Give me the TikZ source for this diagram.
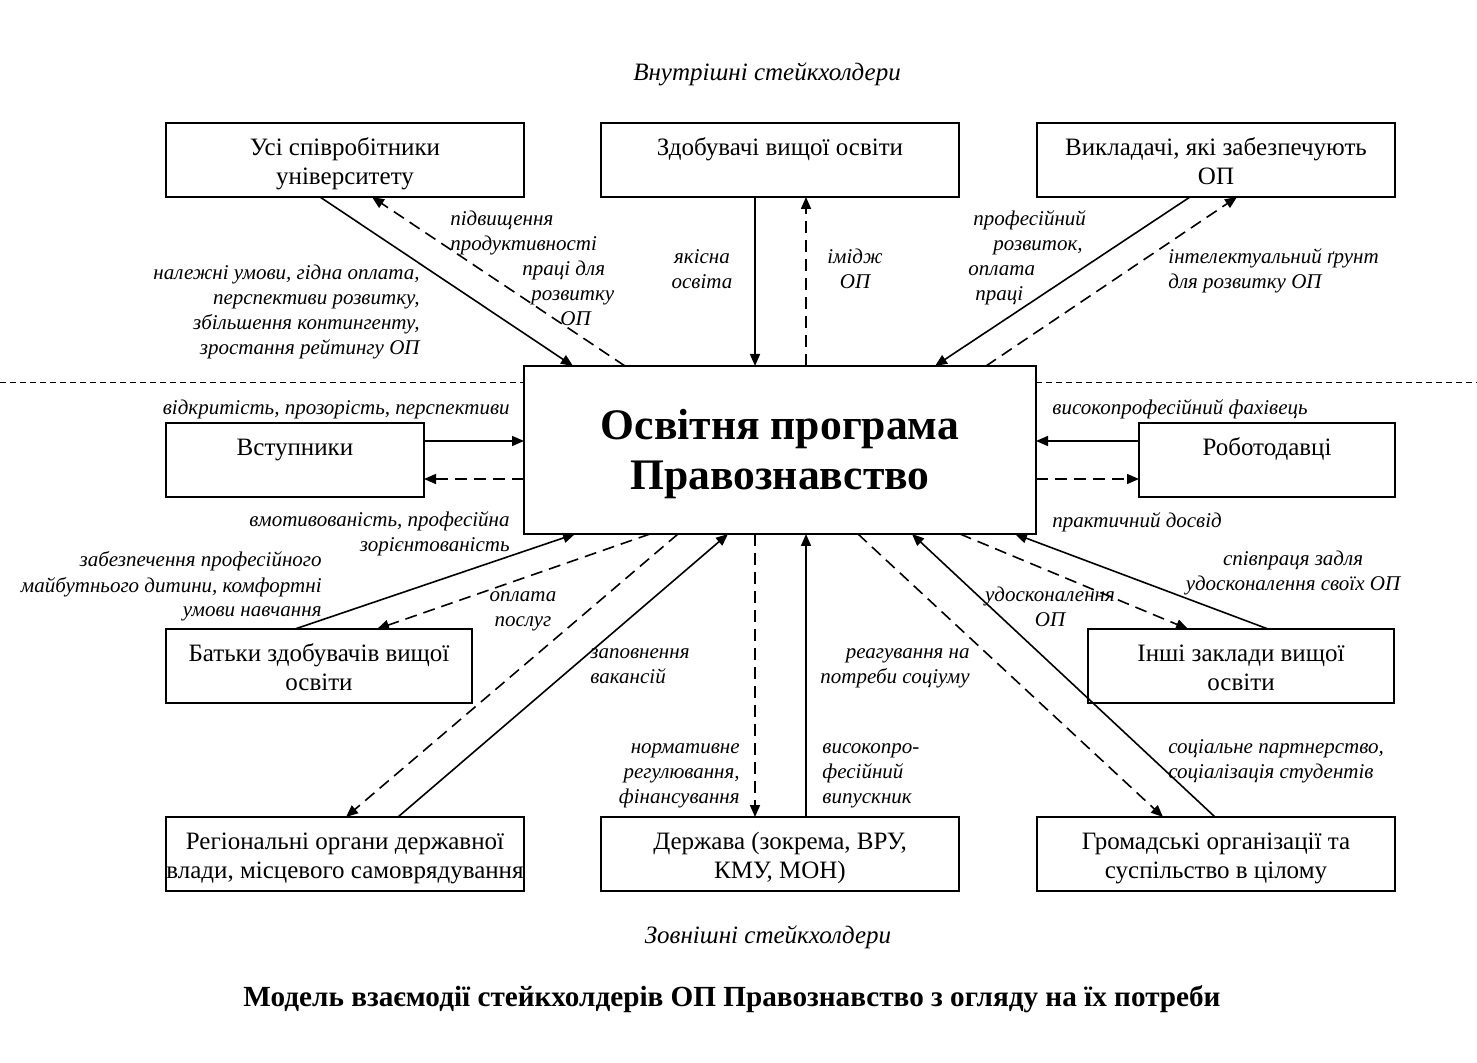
\documentclass[tikz,border=0pt]{standalone}
\usepackage{fontspec}
\setmainfont{Liberation Serif}
\usetikzlibrary{arrows.meta,calc}
\newcommand\boxlines[2]{\begin{tabular}{@{}c@{}}#1\\\mbox{}#2\end{tabular}}
\begin{document}
\begin{tikzpicture}[x=0.5pt,y=-0.5pt,
  box/.style={draw, line width=0.7pt, minimum width=179pt, minimum height=37pt,
    inner sep=0pt, outer sep=0pt, text height=19.6pt, text depth=9.4pt,
    font=\fontsize{12.5}{14.5}\selectfont},
  hub/.style={draw, line width=0.7pt, minimum width=256pt, minimum height=84pt,
    inner sep=0pt, outer sep=0pt, text height=32.2pt, text depth=17.8pt,
    font=\fontsize{21.8}{25}\selectfont\bfseries},
  lbl/.style={inner sep=0pt, font=\fontsize{10.5}{12.5}\selectfont\itshape},
  head/.style={inner sep=0pt, font=\fontsize{12.5}{15}\selectfont\itshape},
  flow/.style={line width=0.8pt, -{Triangle[length=6pt,width=5pt]}},
  back/.style={flow, dash pattern=on 6pt off 3.5pt},
  sep/.style={line width=0.5pt, dash pattern=on 3pt off 2pt},
]
\useasboundingbox (0,0) rectangle (1477,1063);

% separator line
\coordinate (SL) at (0,383);
\coordinate (SR) at (1477,383);

% boxes
\node[hub] (O) at (780,450) {\boxlines{Освітня програма}{Правознавство}};
\node[box] (A) at (345,160) {\boxlines{Усі співробітники}{університету}};
\node[box] (B) at (780,160) {\boxlines{Здобувачі вищої освіти}{}};
\node[box] (C) at (1216,160) {\boxlines{Викладачі, які забезпечують}{ОП}};
\node[box, minimum width=129pt] (V) at (295,460) {\boxlines{Вступники}{}};
\node[box, minimum width=128pt] (R) at (1267,460) {\boxlines{Роботодавці}{}};
\node[box, minimum width=153pt] (P) at (319,666) {\boxlines{Батьки здобувачів вищої}{освіти}};
\node[box, minimum width=153pt] (I) at (1241,666) {\boxlines{Інші заклади вищої}{освіти}};
\node[box] (G) at (345,854) {\boxlines{Регіональні органи державної}{влади, місцевого самоврядування}};
\node[box] (D) at (780,854) {\boxlines{Держава (зокрема, ВРУ,}{КМУ, МОН)}};
\node[box] (H) at (1216,854) {\boxlines{Громадські організації та}{суспільство в цілому}};

\draw[sep] (SL) -- (SL -| O.west);
\draw[sep] (SR -| O.east) -- (SR);

% top connectors
\draw[flow] ($(A.south west)+(154,0)$) -- ($(O.north west)+(49,0)$);
\draw[back] ($(O.north west)+(101,0)$) -- ($(A.south west)+(206,0)$);
\draw[flow] ($(B.south west)+(154,0)$) -- ($(O.north west)+(231,0)$);
\draw[back] ($(O.north west)+(282,0)$) -- ($(B.south west)+(205,0)$);
\draw[flow] ($(C.south west)+(153,0)$) -- ($(O.north west)+(411,0)$);
\draw[back] ($(O.north west)+(462,0)$) -- ($(C.south west)+(200,0)$);
% side connectors
\draw[flow] ($(V.north east)+(0,18)$) -- ($(O.north west)+(0,75)$);
\draw[back] ($(O.north west)+(0,113)$) -- ($(V.north east)+(0,56)$);
\draw[flow] ($(R.north west)+(0,18)$) -- ($(O.north east)+(0,75)$);
\draw[back] ($(O.north east)+(0,113)$) -- ($(R.north west)+(0,56)$);
% lower connectors
\draw[flow] ($(P.north west)+(129,0)$) -- ($(O.south west)+(51,0)$);
\draw[back] ($(O.south west)+(126,0)$) -- ($(P.north west)+(211,0)$);
\draw[flow] ($(G.north west)+(232,0)$) -- ($(O.south west)+(204,0)$);
\draw[back] ($(O.south west)+(154,0)$) -- ($(G.north west)+(180,0)$);
\draw[back] ($(O.south west)+(231,0)$) -- ($(D.north west)+(154,0)$);
\draw[flow] ($(D.north west)+(205,0)$) -- ($(O.south west)+(282,0)$);
\draw[flow] ($(H.north west)+(178,0)$) -- ($(O.south west)+(388,0)$);
\draw[back] ($(O.south west)+(334,0)$) -- ($(H.north west)+(126,0)$);
\draw[flow] ($(I.north west)+(180,0)$) -- ($(O.south west)+(491,0)$);
\draw[back] ($(O.south west)+(436,0)$) -- ($(I.north west)+(100,0)$);

% headings
\node[head, anchor=base] (t1) at (767,81) {Внутрішні стейкхолдери};
\node[head, anchor=base] (t2) at (768,943) {Зовнішні стейкхолдери};
\node[inner sep=0pt, anchor=base, font=\fontsize{14.6}{17}\selectfont\bfseries] (cap) at (732,1006)
  {Модель взаємодії стейкхолдерів ОП Правознавство з огляду на їх потреби};

% labels (base anchor = baseline of last line)
\node[lbl, anchor=base east, align=right] (l1) at (420,355)
  {належні умови, гідна оплата,\\перспективи розвитку,\\збільшення контингенту,\\зростання рейтингу ОП};
\node[lbl, anchor=base west, align=left] (l2) at (450,326)
  {підвищення\\продуктивності\\\hspace*{36pt}праці для\\\hspace*{40.5pt}розвитку\\\hspace*{55pt}ОП};
\node[lbl, anchor=base, align=center] (l3) at (702,289) {якісна\\освіта};
\node[lbl, anchor=base, align=center] (l4) at (855,289) {імідж\\ОП};
\node[lbl, anchor=base west, align=left] (l5) at (968,301)
  {\hspace*{2.5pt}професійний\\\hspace*{12.5pt}розвиток,\\оплата\\\hspace*{3.5pt}праці};
\node[lbl, anchor=base west, align=left] (l6) at (1168,289) {інтелектуальний ґрунт\\для розвитку ОП};
\node[lbl, anchor=base east] (l7) at (510,415) {відкритість, прозорість, перспективи};
\node[lbl, anchor=base east, align=right] (l8) at (510,552) {вмотивованість, професійна\\зорієнтованість};
\node[lbl, anchor=base east, align=right] (l9) at (322,617)
  {забезпечення професійного\\майбутнього дитини, комфортні\\умови навчання};
\node[lbl, anchor=base, align=center] (l10) at (523,626) {оплата\\послуг};
\node[lbl, anchor=base west, align=left] (l11) at (590,683) {заповнення\\вакансій};
\node[lbl, anchor=base east, align=right] (l12) at (740,803) {нормативне\\регулювання,\\фінансування};
\node[lbl, anchor=base west, align=left] (l13) at (822,803) {високопро-\\фесійний\\випускник};
\node[lbl, anchor=base east, align=right] (l14) at (970,683) {реагування на\\потреби соціуму};
\node[lbl, anchor=base, align=center] (l15) at (1050,626) {удосконалення\\ОП};
\node[lbl, anchor=base, align=center] (l16) at (1293,590) {співпраця задля\\удосконалення своїх ОП};
\node[lbl, anchor=base west, align=left] (l17) at (1168,778) {соціальне партнерство,\\соціалізація студентів};
\node[lbl, anchor=base west] (l18) at (1052,415) {високопрофесійний фахівець};
\node[lbl, anchor=base west] (l19) at (1052,528) {практичний досвід};
\end{tikzpicture}
\end{document}
